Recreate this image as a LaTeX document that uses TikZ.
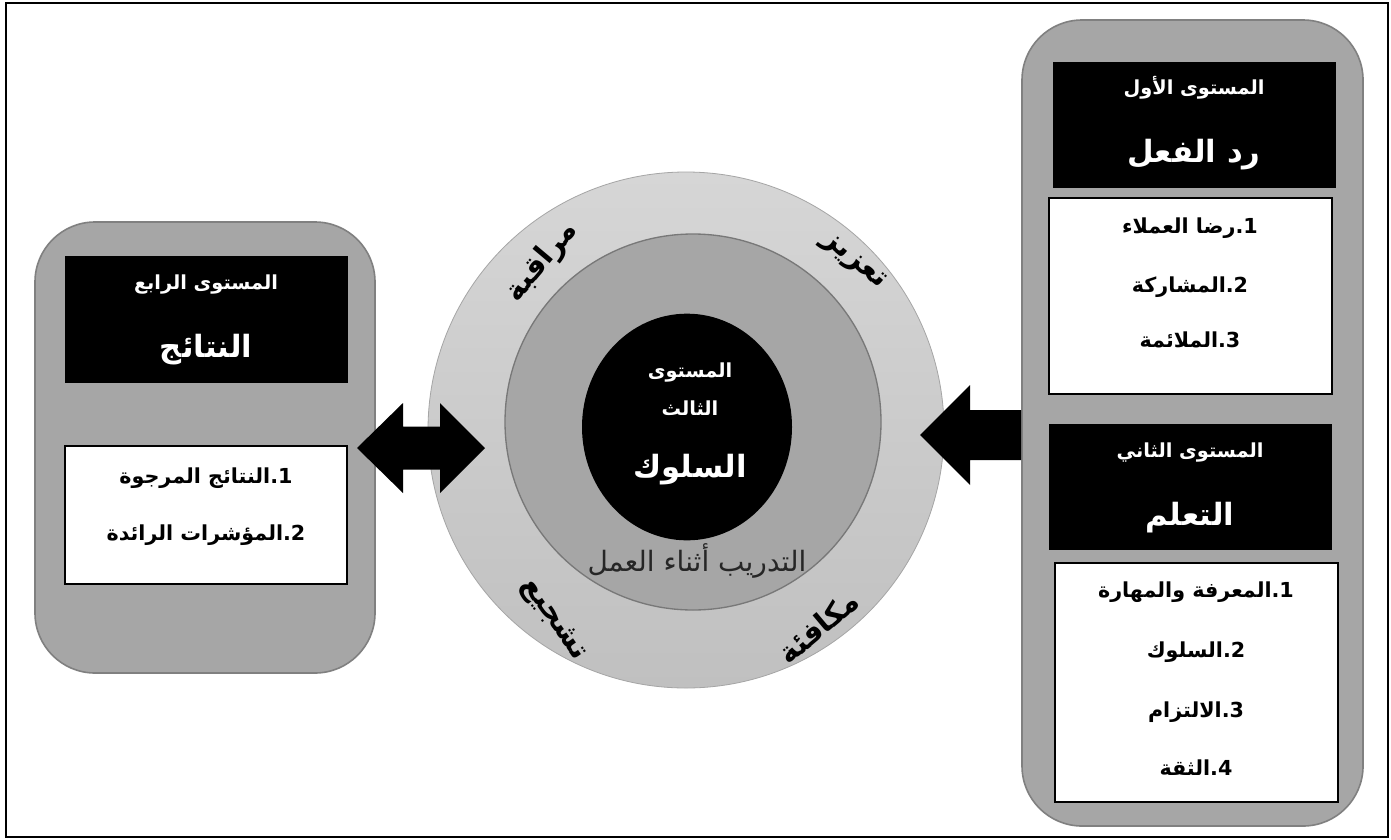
\documentclass[tikz,border=0pt]{standalone}
\usepackage{fontspec}
\usetikzlibrary{fit,shapes.geometric}
\TeXXeTstate=1
\newfontfamily\arabicfont[Script=Arabic]{DejaVu Sans}
\newcommand\AR[1]{\arabicfont\beginR #1\endR}
\definecolor{boxgray}{RGB}{166,166,166}
\definecolor{boxedge}{RGB}{128,128,128}
\definecolor{ringtop}{RGB}{214,214,214}
\definecolor{ringbot}{RGB}{192,192,192}
\definecolor{ringedge}{RGB}{165,165,165}
\definecolor{midgray}{RGB}{166,166,166}
\definecolor{midedge}{RGB}{120,120,120}
\definecolor{labelgray}{RGB}{38,38,38}
\tikzset{
  levelbox/.style={fill=boxgray, draw=boxedge, line width=1.2pt, rounded corners=45pt, inner sep=0pt},
  headbox/.style={fill=black, draw=none, inner sep=0pt},
  listbox/.style={fill=white, draw=black, line width=0.8pt, inner sep=0pt},
  headsmall/.style={text=white, font=\bfseries\fontsize{14.5}{17}\selectfont, inner sep=0pt},
  headbig/.style={text=white, font=\bfseries\fontsize{23}{27}\selectfont, inner sep=0pt},
  item/.style={text=black, font=\bfseries\fontsize{15.5}{18}\selectfont, inner sep=0pt},
  ringword/.style={text=black, font=\bfseries\fontsize{22}{26}\selectfont, inner sep=0pt},
  blockarrow/.style={fill=black, draw=none}
}
\begin{document}
\begin{tikzpicture}[x=0.75pt, y=-0.75pt]
\useasboundingbox (0,0) rectangle (1391,839);
\fill[white] (0,0) rectangle (1391,839);
% outer frame
\draw[line width=1.6pt] (6,3) rectangle (1388,837);

% right column: first and second levels
\node[levelbox, fit={(1022,20) (1363,826)}] (rightcol) {};
\node[headbox, fit={(1053,62) (1336,188)}] (head1) {};
\node[headsmall] (h1a) at (1194,88) {\AR{المستوى الأول}};
\node[headbig] (h1b) at (1194,155) {\AR{رد الفعل}};
\node[listbox, fit={(1049,198) (1332,394)}] (list1) {};
\node[item] (i11) at (1190,228) {\AR{1.رضا العملاء}};
\node[item] (i12) at (1190,287) {\AR{2.المشاركة}};
\node[item] (i13) at (1190,340) {\AR{3.الملائمة}};

\node[headbox, fit={(1049,424) (1332,550)}] (head2) {};
\node[headsmall] (h2a) at (1190,453) {\AR{المستوى الثاني}};
\node[headbig] (h2b) at (1190,518) {\AR{التعلم}};
\node[listbox, fit={(1055,563) (1338,802)}] (list2) {};
\node[item] (i21) at (1196,592) {\AR{1.المعرفة والمهارة}};
\node[item] (i22) at (1196,652) {\AR{2.السلوك}};
\node[item] (i23) at (1196,712) {\AR{3.الالتزام}};
\node[item] (i24) at (1196,768) {\AR{4.الثقة}};

% left column: fourth level
\node[levelbox, fit={(35,222) (375,673)}] (leftcol) {};
\node[headbox, fit={(65,256) (348,383)}] (head4) {};
\node[headsmall] (h4a) at (206,285) {\AR{المستوى الرابع}};
\node[headbig] (h4b) at (206,350) {\AR{النتائج}};
\node[listbox, fit={(65,446) (347,584)}] (list4) {};
\node[item] (i41) at (206,478) {\AR{1.النتائج المرجوة}};
\node[item] (i42) at (206,535) {\AR{2.المؤشرات الرائدة}};

% central rings: third level
\node[circle, minimum size=387pt, inner sep=0pt, top color=ringtop, bottom color=ringbot, draw=ringedge, line width=0.6pt] (ring) at (686,430) {};
\node[circle, minimum size=282pt, inner sep=0pt, fill=midgray, draw=midedge, line width=1pt] (inner) at (693,422) {};
\node[ellipse, minimum width=157.5pt, minimum height=170pt, inner sep=0pt, fill=black] (core) at (687,427) {};
\node[headsmall] (c1) at (690,373) {\AR{المستوى}};
\node[headsmall] (c2) at (690,408) {\AR{الثالث}};
\node[headbig] (c3) at (690,470) {\AR{السلوك}};
\node[text=labelgray, font=\fontsize{21}{24}\selectfont, inner sep=0pt] (otj) at (697,561) {\AR{التدريب أثناء العمل}};

% words around the ring
\node[ringword, rotate=50] (w1) at (542,262) {\AR{مراقبة}};
\node[ringword, rotate=-40] (w2) at (853,262) {\AR{تعزيز}};
\node[ringword, rotate=-55] (w3) at (553,620) {\AR{تشجيع}};
\node[ringword, rotate=40] (w4) at (818,627) {\AR{مكافئة}};

% block arrows
\fill[blockarrow] (357,448) -- (403,403) -- (403,426.5) -- (440,426.5) -- (440,403)
  -- (485,448) -- (440,493) -- (440,469.5) -- (403,469.5) -- (403,493) -- cycle;
\fill[blockarrow] (920,435) -- (970,385) -- (970,410) -- (1021,410) -- (1021,460)
  -- (970,460) -- (970,485) -- cycle;
\end{tikzpicture}
\end{document}
